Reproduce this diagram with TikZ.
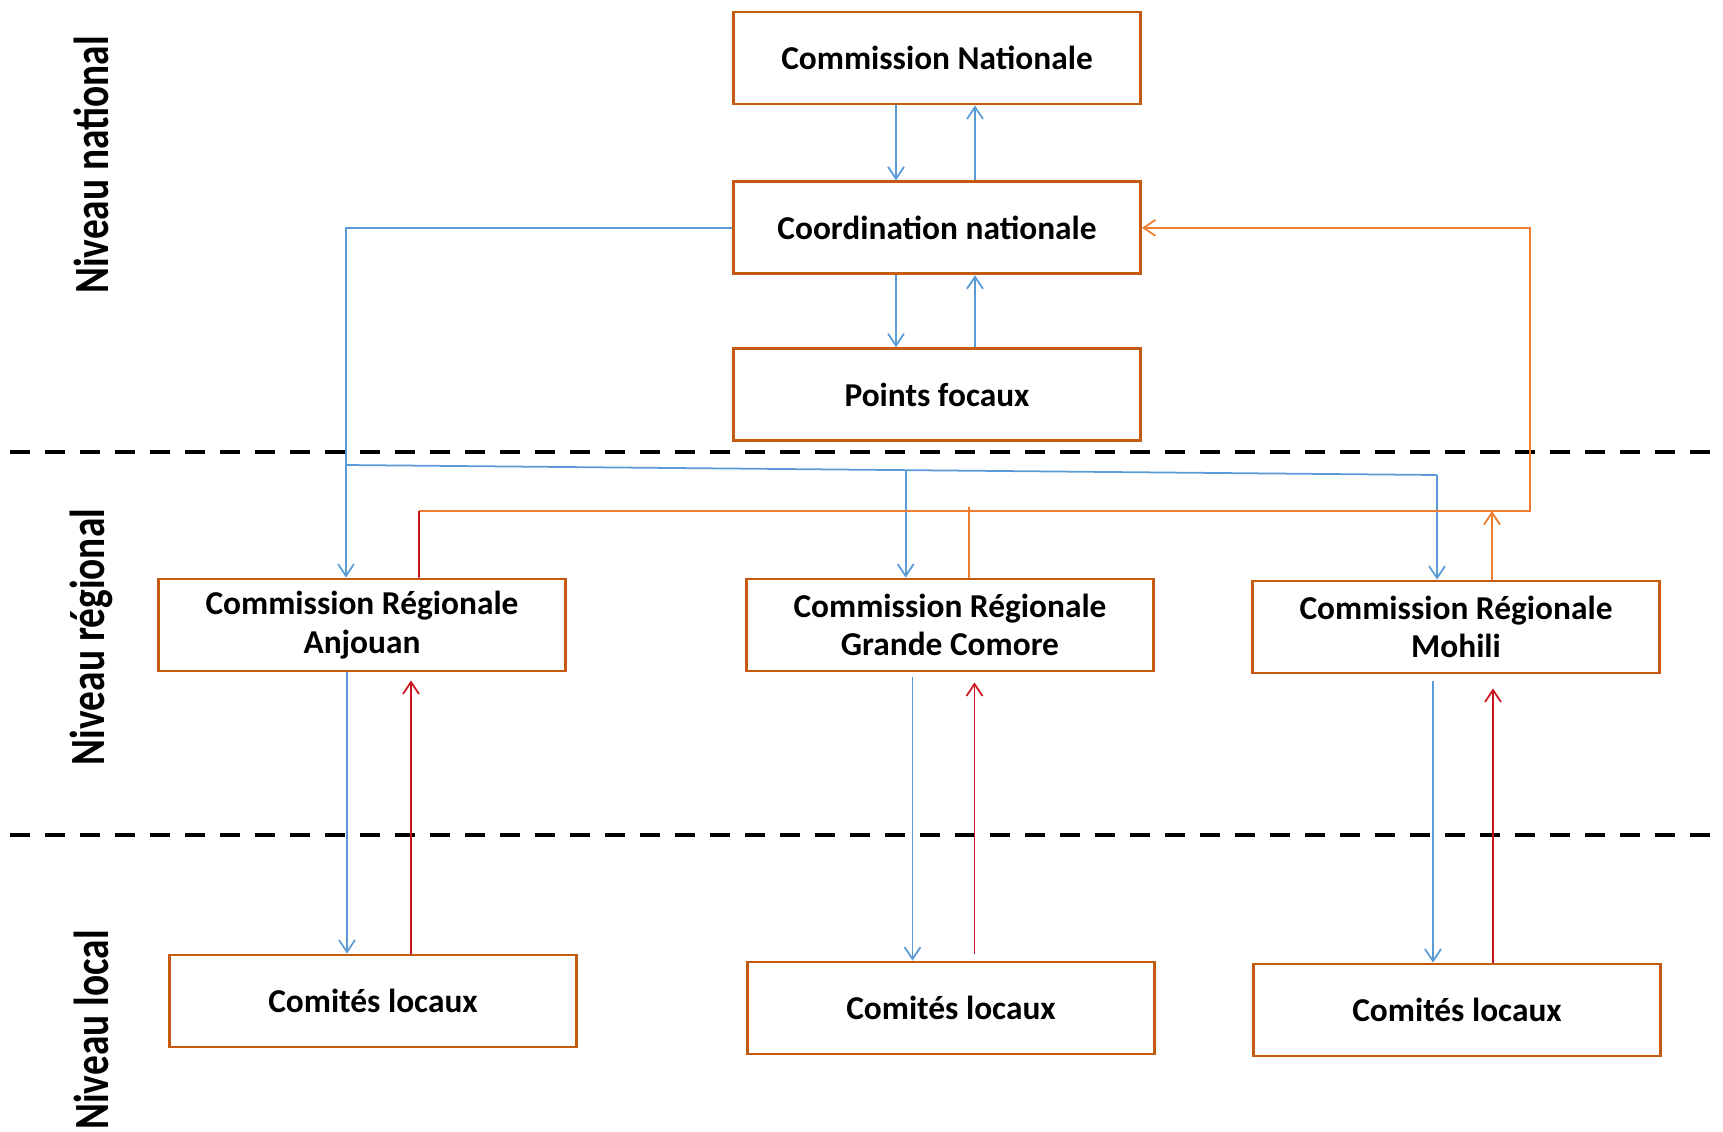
\documentclass[tikz,border=0pt]{standalone}
\usepackage{fontspec}
\setmainfont{Carlito}
\usepackage{tikz}
\usetikzlibrary{arrows.meta,positioning,calc}

\definecolor{boxorange}{RGB}{197,90,17}
\definecolor{linkblue}{RGB}{91,155,213}
\definecolor{linkorange}{RGB}{237,125,49}
\definecolor{linkred}{RGB}{200,20,30}

\tikzset{
  box/.style={draw=boxorange, line width=0.8pt, minimum width=40.7mm, minimum height=9.2mm,
    align=center, font=\fontsize{9.5}{11}\selectfont\bfseries},
  bl/.style={draw=linkblue, line width=0.5pt},
  ol/.style={draw=linkorange, line width=0.5pt},
  rl/.style={draw=linkred, line width=0.5pt},
  level/.style={rotate=90, font=\fontsize{14}{16}\selectfont\bfseries},
  sep/.style={line width=1.2pt, dash pattern=on 2mm off 1.5mm}
}
\newcommand{\lvl}[1]{\scalebox{0.8}[1]{#1}}

\begin{document}
\begin{tikzpicture}[>={Straight Barb[length=1.2mm,width=1.6mm]}, node distance=7.5mm]
  \useasboundingbox (0,0) rectangle (17.23,-11.31);

  % national level
  \node[box] (cn) at (9.37,-0.58) {Commission Nationale};
  \node[box, below=of cn] (coord) {Coordination nationale};
  \node[box, below=7.2mm of coord] (pf) {Points focaux};

  % regional level
  \node[box] (cra) at (3.62,-6.25) {Commission Régionale\\Anjouan};
  \node[box] (crg) at (9.50,-6.25) {Commission Régionale\\Grande Comore};
  \node[box] (crm) at (14.56,-6.27) {Commission Régionale\\Mohili};

  % local level
  \node[box] (cla) at (3.73,-10.01) {Comités locaux};
  \node[box] (clg) at (9.51,-10.08) {Comités locaux};
  \node[box] (clm) at (14.57,-10.10) {Comités locaux};

  % level labels and separators
  \node[level] (lnat) at (0.91,-1.65) {\lvl{Niveau national}};
  \node[level] (lreg) at (0.91,-6.37) {\lvl{Niveau régional}};
  \node[level] (lloc) at (0.91,-10.30) {\lvl{Niveau local}};
  \draw[sep] (0.10,-4.52) -- (17.23,-4.52);
  \draw[sep] (0.10,-8.35) -- (17.23,-8.35);

  % national links
  \draw[bl,->] ([xshift=-4.1mm]cn.south) -- ([xshift=-4.1mm]cn.south |- coord.north);
  \draw[bl,->] ([xshift=3.8mm]coord.north) -- ([xshift=3.8mm]coord.north |- cn.south);
  \draw[bl,->] ([xshift=-4.1mm]coord.south) -- ([xshift=-4.1mm]coord.south |- pf.north);
  \draw[bl,->] ([xshift=3.8mm]pf.north) -- ([xshift=3.8mm]pf.north |- coord.south);

  % down to the regions
  \coordinate (busl) at (3.46,-4.65);
  \coordinate (busr) at (14.37,-4.75);
  \coordinate (busm) at ($(busl)!0.513!(busr)$);
  \draw[bl,->] (coord.west) -| (busl |- cra.north);
  \draw[bl] (busl) -- (busr);
  \draw[bl,->] (busm) -- (busm |- crg.north);
  \draw[bl,->] (busr) -- (busr |- crm.north);

  % back up to the coordination
  \coordinate (retl) at (4.19,-5.11);
  \coordinate (retr) at (15.30,-5.11);
  \draw[ol,->] (retl) -- (retr) |- (coord.east);
  \draw[rl] ([xshift=5.7mm]cra.north) -- (retl);
  \draw[ol] ([xshift=1.9mm]crg.north) -- ([xshift=1.9mm,yshift=0.4mm]crg.north |- retl);
  \draw[ol,->] ([xshift=3.6mm]crm.north) -- ([xshift=3.6mm]crm.north |- retr);

  % regions and local committees
  \draw[bl,->] ([xshift=-1.5mm]cra.south) -- ([xshift=-1.5mm]cra.south |- cla.north);
  \draw[rl,->] ([xshift=4.9mm]cra.south |- cla.north) -- ([xshift=4.9mm,yshift=-0.8mm]cra.south);
  \draw[bl,->] ([xshift=-3.75mm,yshift=-0.5mm]crg.south) -- ([xshift=-3.75mm]crg.south |- clg.north);
  \draw[rl,->] ([xshift=2.45mm,yshift=0.7mm]crg.south |- clg.north) -- ([xshift=2.45mm,yshift=-1mm]crg.south);
  \draw[bl,->] ([xshift=-2.3mm,yshift=-0.7mm]crm.south) -- ([xshift=-2.3mm]crm.south |- clm.north);
  \draw[rl,->] ([xshift=3.7mm]crm.south |- clm.north) -- ([xshift=3.7mm,yshift=-1.4mm]crm.south);
\end{tikzpicture}
\end{document}
